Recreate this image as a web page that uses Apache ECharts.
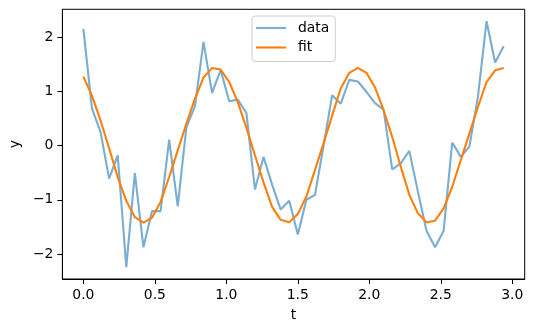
<!DOCTYPE html>
<html>
<head>
<meta charset="utf-8">
<script src="https://cdn.jsdelivr.net/npm/echarts@6/dist/echarts.min.js"></script>
<style>
html,body{margin:0;padding:0;background:#fff;}
#chart{width:534px;height:332px;}
</style>
</head>
<body>
<div id="chart"></div>
<script>
var tValues = [0.00,0.06,0.12,0.18,0.24,0.30,0.36,0.42,0.48,0.54,
  0.60,0.66,0.72,0.78,0.84,0.90,0.96,1.02,1.08,1.14,
  1.20,1.26,1.32,1.38,1.44,1.50,1.56,1.62,1.68,1.74,
  1.80,1.86,1.92,1.98,2.04,2.10,2.16,2.22,2.28,2.34,
  2.40,2.46,2.52,2.58,2.64,2.70,2.76,2.82,2.88,2.94];
var dataValues = [2.15,0.68,0.25,-0.61,-0.18,-2.24,-0.51,-1.875,-1.21,-1.21,
  0.11,-1.12,0.33,0.72,1.91,0.97,1.39,0.815,0.846,0.60,
  -0.81,-0.21,-0.72,-1.18,-1.02,-1.64,-1.00,-0.91,0.0,0.925,
  0.77,1.21,1.18,0.99,0.78,0.66,-0.44,-0.33,-0.10,-0.85,
  -1.57,-1.875,-1.57,0.055,-0.21,-0.02,0.9,2.29,1.53,1.83];
var fitValues = [1.27,0.92,0.46,-0.05,-0.58,-1.02,-1.32,-1.42,-1.33,-1.04,
  -0.58,-0.09,0.40,0.86,1.25,1.43,1.40,1.17,0.80,0.33,
  -0.18,-0.68,-1.13,-1.37,-1.415,-1.26,-0.94,-0.45,0.04,0.55,
  1.05,1.34,1.43,1.34,1.07,0.65,0.16,-0.39,-0.91,-1.25,
  -1.415,-1.385,-1.16,-0.76,-0.27,0.22,0.71,1.17,1.385,1.43];
var xTicks = [0, 0.5, 1.0, 1.5, 2.0, 2.5, 3.0];
var yTicks = [-2, -1, 0, 1, 2];
var seriesNames = ['data', 'fit'];
var xLabel = 't';
var yLabel = 'y';

function pairs(ys){ return tValues.map(function(t,i){ return [t, ys[i]]; }); }

var FONT = 'DejaVu Sans';
var chart = echarts.init(document.getElementById('chart'), null, {renderer:'canvas'});
chart.setOption({
  animation: false,
  backgroundColor: '#ffffff',
  textStyle: {fontFamily: FONT},
  grid: {left: 60.5, top: 9.3, width: 464.2, height: 269.7, show: true,
         borderColor: '#000', borderWidth: 1, containLabel: false},
  legend: {
    orient: 'vertical', left: 252, top: 16,
    data: seriesNames,
    icon: 'rect',
    itemWidth: 30, itemHeight: 2.1, itemGap: 5.5,
    padding: [5, 6, 7, 4],
    borderColor: '#d0d0d0', borderWidth: 1, borderRadius: 3,
    backgroundColor: 'rgba(255,255,255,0.8)',
    textStyle: {fontFamily: FONT, fontSize: 13.9, color: '#000', padding: [0,0,0,7]}
  },
  xAxis: {
    type: 'value', min: -0.147, max: 3.087,
    name: xLabel, nameLocation: 'middle', nameGap: 29,
    nameTextStyle: {fontFamily: FONT, fontSize: 13.9, color: '#000'},
    axisLine: {show: true, onZero: false, lineStyle: {color: '#000', width: 1}},
    axisTick: {show: true, inside: false, length: 5, customValues: xTicks, lineStyle: {color: '#000', width: 1}},
    axisLabel: {show: true, margin: 9, customValues: xTicks, fontFamily: FONT, fontSize: 13.9, color: '#000',
      formatter: function(v){ return v.toFixed(1); }},
    splitLine: {show: false}
  },
  yAxis: {
    type: 'value', min: -2.46, max: 2.51,
    name: yLabel, nameLocation: 'middle', nameGap: 37,
    nameTextStyle: {fontFamily: FONT, fontSize: 13.9, color: '#000'},
    axisLine: {show: true, onZero: false, lineStyle: {color: '#000', width: 1}},
    axisTick: {show: true, inside: false, length: 5, customValues: yTicks, lineStyle: {color: '#000', width: 1}},
    axisLabel: {show: true, margin: 9, customValues: yTicks, fontFamily: FONT, fontSize: 13.9, color: '#000',
      formatter: function(v){ return String(v).replace('-', '\u2212'); }},
    splitLine: {show: false}
  },
  series: [
    {name: seriesNames[0], type: 'line', data: pairs(dataValues), symbol: 'none', showSymbol: false,
     color: 'rgba(31,119,180,0.6)', lineStyle: {width: 2.1, color: 'rgba(31,119,180,0.6)'}, z: 2},
    {name: seriesNames[1], type: 'line', data: pairs(fitValues), symbol: 'none', showSymbol: false,
     color: '#ff7f0e', lineStyle: {width: 2.1, color: '#ff7f0e'}, z: 3}
  ]
});
</script>
</body>
</html>
